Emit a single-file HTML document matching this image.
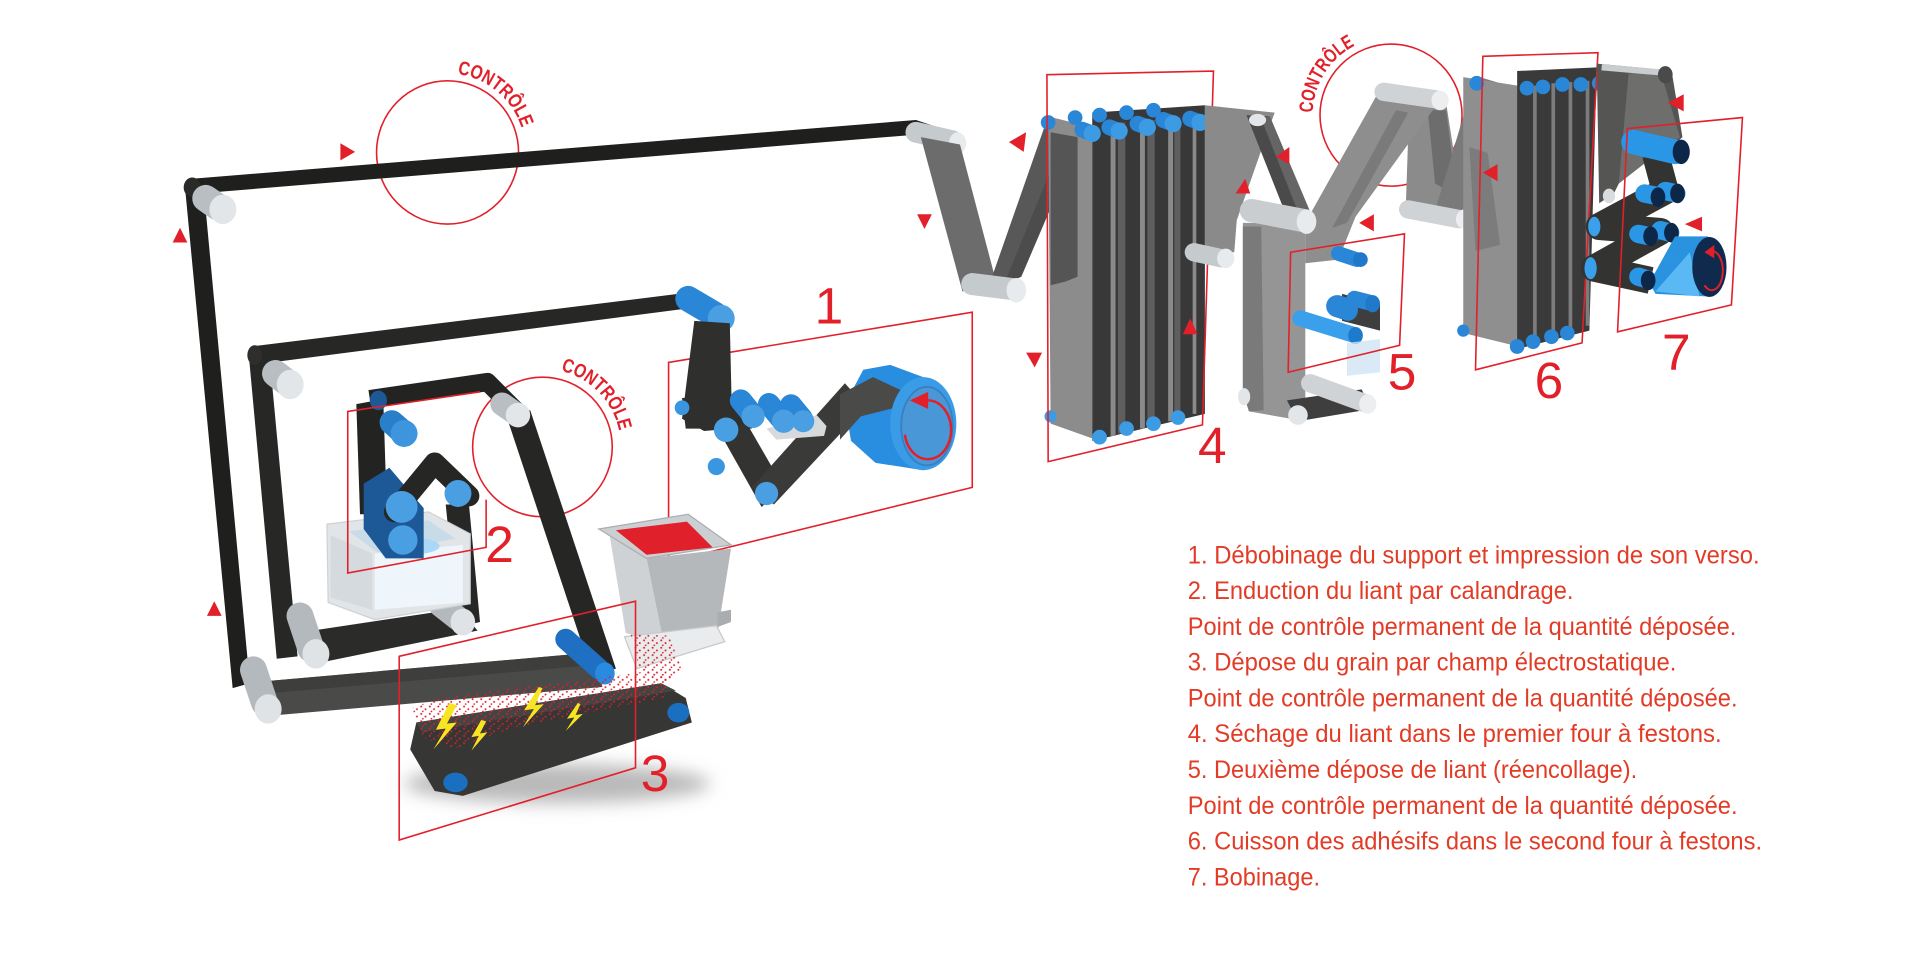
<!DOCTYPE html>
<html><head><meta charset="utf-8">
<style>
html,body{margin:0;padding:0;background:#fff;}
svg{display:block;}
.r{fill:none;stroke:#e2202a;stroke-width:1.3;}
.t{fill:#e2202a;}
.lst{font-family:"Liberation Sans",sans-serif;font-size:20.6px;fill:#e23b26;}
.num{font-family:"Liberation Sans",sans-serif;font-size:42px;fill:#e2202a;text-anchor:middle;}
.ctl{font-family:"Liberation Sans Narrow","Liberation Sans",sans-serif;font-size:16px;font-weight:bold;fill:#e2202a;}
</style></head><body>
<svg width="1920" height="960" viewBox="0 0 1568 784" xmlns="http://www.w3.org/2000/svg">
<defs>
 <pattern id="dots" width="7" height="6" patternUnits="userSpaceOnUse">
  <circle cx="1" cy="1" r="0.8" fill="#d8202c"/>
  <circle cx="4.5" cy="3.2" r="0.8" fill="#d8202c"/>
  <circle cx="2.3" cy="5" r="0.7" fill="#d8202c"/>
 </pattern>
 <filter id="blur" x="-30%" y="-100%" width="160%" height="300%"><feGaussianBlur stdDeviation="7"/></filter>
 <path id="c1p" d="M370.6,60.2 A64,64 0 0 1 428.8,118.4"/>
 <path id="c2p" d="M454.1,302 A64,64 0 0 1 507,365"/>
 <path id="c3p" d="M1072,96.2 A64,64 0 0 1 1114.1,33.9"/>
</defs>

<!-- CONTROL CIRCLES (behind belts) -->
<ellipse class="r" cx="365.5" cy="124.5" rx="58" ry="58.5"/>
<text class="ctl"><textPath href="#c1p" startOffset="3" textLength="72" lengthAdjust="spacingAndGlyphs">CONTRÔLE</textPath></text>
<circle class="r" cx="1136" cy="94" r="58"/>
<text class="ctl"><textPath href="#c3p" startOffset="4" textLength="68" lengthAdjust="spacingAndGlyphs">CONTRÔLE</textPath></text>

<!-- OUTER BELT -->
<polygon points="157,146 748,98 766,104 760,109 162,158" fill="#1f1f1d"/>
<polygon points="151,152 166,150 204,558 190,562" fill="#1f1f1d"/>
<ellipse cx="157" cy="153" rx="7" ry="8" fill="#2a2a28"/>
<line x1="168" y1="162" x2="178" y2="169" stroke="#b9bec2" stroke-width="22" stroke-linecap="round"/>
<ellipse cx="182" cy="171" rx="11" ry="12" fill="#e3e6e8"/>
<line x1="748" y1="108" x2="778" y2="115" stroke="#c5cacd" stroke-width="17" stroke-linecap="round"/>
<ellipse cx="782" cy="117" rx="7" ry="9" fill="#e8ebed"/>
<!-- bottom band -->
<polygon points="220,556 483,533 492,561 226,584" fill="#4a4a48"/>
<polygon points="220,556 483,533 486,543 222,566" fill="#3e3e3c"/>
<line x1="207" y1="547" x2="216" y2="574" stroke="#b4b9bd" stroke-width="22" stroke-linecap="round"/>
<ellipse cx="219" cy="579" rx="11" ry="12" fill="#dfe3e6"/>

<!-- INNER LOOP -->
<polygon points="205,283 570,238 584,249 214,297" fill="#272725"/>
<polygon points="203,288 220,290 243,536 226,538" fill="#272725"/>
<ellipse cx="208" cy="290" rx="6" ry="8" fill="#2e2e2c"/>
<line x1="225" y1="305" x2="234" y2="312" stroke="#b9bec2" stroke-width="22" stroke-linecap="round"/>
<ellipse cx="237" cy="314" rx="11" ry="12" fill="#e3e6e8"/>
<polygon points="255,515 375,497 390,515 262,541" fill="#2b2b29"/>
<polygon points="364,412 383,412 392,508 374,512" fill="#272725"/>
<line x1="245" y1="503" x2="254" y2="530" stroke="#b4b9bd" stroke-width="22" stroke-linecap="round"/>
<ellipse cx="258" cy="534" rx="11" ry="12" fill="#dfe3e6"/>
<line x1="360" y1="494" x2="374" y2="505" stroke="#b4b9bd" stroke-width="20" stroke-linecap="round"/>
<ellipse cx="378" cy="508" rx="10" ry="11" fill="#dfe3e6"/>

<!-- UNIT 2 : tray -->
<polygon points="267,428 350,418 384,436 384,493 306,506 268,492" fill="#e1e5e8" stroke="#cdd2d5" stroke-width="1"/>
<polygon points="270,437 304,452 304,498 270,488" fill="#d5dade"/>
<polygon points="306,452 378,445 378,492 306,498" fill="#eef6fb"/>
<polygon points="285,434 350,425 372,440 308,451" fill="#c7dce8"/>
<ellipse cx="335" cy="446" rx="24" ry="7" fill="#a9d9f6"/>

<!-- Circle 2 -->
<circle class="r" cx="443" cy="365" r="57"/>
<text class="ctl"><textPath href="#c2p" startOffset="4" textLength="72" lengthAdjust="spacingAndGlyphs">CONTRÔLE</textPath></text>

<!-- UNIT 2 : calender loop -->
<polygon points="291,330 313,326 316,420 294,420" fill="#232321"/>
<path d="M302,326 L398,312 L424,338" stroke="#232321" stroke-width="15" fill="none" stroke-linejoin="round"/>
<ellipse cx="309" cy="327" rx="7" ry="8" fill="#1d5996"/>
<polygon points="297,395 318,382 346,415 346,456 315,456 297,432" fill="#1d5996"/>
<path d="M322,418 L355,378 L383,405" stroke="#262624" stroke-width="17" fill="none" stroke-linejoin="round" stroke-linecap="round"/>
<line x1="320" y1="345" x2="328" y2="352" stroke="#2a7fcb" stroke-width="20" stroke-linecap="round"/>
<circle cx="330" cy="354" r="11" fill="#3d95dd"/>
<circle cx="328" cy="414" r="13" fill="#4a9fe2"/>
<circle cx="329" cy="441" r="12" fill="#4a9fe2"/>
<circle cx="374" cy="403" r="11" fill="#4a9fe2"/>
<!-- diagonal belt -->
<polygon points="413,338 433,335 503,546 484,552" fill="#262624"/>
<line x1="410" y1="330" x2="420" y2="337" stroke="#b9bec2" stroke-width="19" stroke-linecap="round"/>
<ellipse cx="423" cy="339" rx="10" ry="10" fill="#e3e6e8"/>
<!-- Frame 2 -->
<path class="r" d="M392,320 L284,336 L284,468 L397,447 L397,408"/>
<text class="num" x="408" y="459">2</text>

<!-- UNIT 1 -->
<path class="r" d="M794,398 L546,459 L546,296 L794,255 Z"/>
<line x1="562" y1="244" x2="584" y2="257" stroke="#2a86d6" stroke-width="21" stroke-linecap="round"/>
<ellipse cx="589" cy="260" rx="11" ry="11" fill="#4a9fe2"/>
<polygon points="567,262 596,264 598,350 575,352 557,342" fill="#2f2f2d"/>
<polygon points="557,325 612,322 614,350 560,350" fill="#2f2f2d"/>
<polygon points="586,350 610,346 640,398 622,414" fill="#333331"/>
<polygon points="614,398 632,412 707,332 690,313" fill="#3a3a38"/>
<line x1="605" y1="327" x2="614" y2="338" stroke="#2a86d6" stroke-width="18" stroke-linecap="round"/>
<line x1="628" y1="330" x2="638" y2="342" stroke="#2a86d6" stroke-width="18" stroke-linecap="round"/>
<line x1="646" y1="331" x2="655" y2="342" stroke="#2a86d6" stroke-width="18" stroke-linecap="round"/>
<polygon points="626,350 667,339 675,348 673,356 634,359" fill="#d6dadd"/>
<circle cx="557" cy="333" r="6" fill="#3a96e0"/>
<circle cx="585" cy="381" r="7" fill="#3a96e0"/>
<circle cx="593" cy="351" r="10" fill="#4a9fe2"/>
<circle cx="615" cy="340" r="9.5" fill="#4a9fe2"/>
<circle cx="640" cy="344" r="9.5" fill="#4a9fe2"/>
<circle cx="656" cy="344" r="9" fill="#4a9fe2"/>
<circle cx="626" cy="403" r="9.5" fill="#4a9fe2"/>
<!-- big roll -->
<polygon points="690,330 705,302 727,298 754,308 754,384 715,378 695,360" fill="#2a8ee0"/>
<polygon points="686,322 713,308 743,322 735,332 703,340 686,359" fill="#4a4a48"/>
<ellipse cx="754" cy="346" rx="27" ry="38" fill="#3a9be6"/>
<ellipse cx="757" cy="348" rx="21" ry="32" fill="#4a97d8" stroke="#3a7fc0" stroke-width="1.5"/>
<path d="M758,327 A19,24 0 1 1 739,355" fill="none" stroke="#e2202a" stroke-width="2"/>
<polygon points="743,327 758,320 758,334" fill="#e2202a"/>
<text class="num" x="677" y="264">1</text>

<!-- HOPPER -->
<polygon points="498,438 528,456 542,525 511,517" fill="#cfd2d4"/>
<polygon points="528,456 597,448 586,517 542,525" fill="#b4b8bb"/>
<polygon points="586,500 597,498 597,508 586,512" fill="#a9adb0"/>
<polygon points="489,432 562,420 597,445 528,456" fill="#cbcfd2" stroke="#a9aeb2" stroke-width="1"/>
<polygon points="503,433 561,426 582,447 528,453" fill="#e0202a"/>
<polygon points="510,520 585,511 592,524 520,546" fill="#e9ebec" stroke="#c6cacd" stroke-width="1"/>

<!-- shadow + CONVEYOR -->
<ellipse cx="455" cy="640" rx="125" ry="16" fill="#b9b9b9" filter="url(#blur)"/>
<polygon points="340,590 540,558 560,570 565,590 378,650 355,646 335,612" fill="#363634"/>
<polygon points="340,590 540,558 552,564 345,598" fill="#444442"/>
<ellipse cx="372" cy="639" rx="10" ry="8" fill="#1a6fc0"/>
<ellipse cx="554" cy="582" rx="9" ry="8" fill="#1a6fc0"/>
<!-- blue diagonal roller -->
<line x1="462" y1="522" x2="490" y2="547" stroke="#1f6fc2" stroke-width="17" stroke-linecap="round"/>
<ellipse cx="494" cy="550" rx="8" ry="9" fill="#2a8ae0"/>
<!-- red dots -->
<polygon points="336,578 360,570 420,562 480,555 530,548 548,552 542,570 480,582 420,594 370,612 345,602" fill="url(#dots)"/>
<polygon points="515,518 546,519 558,548 542,558 522,546" fill="url(#dots)"/>
<!-- lightning -->
<g fill="#f7e523">
 <polygon points="367,574 356,596 364,595 354,612 373,590 365,591 373,576"/>
 <polygon points="393,588 385,602 391,601 385,613 398,598 392,599 397,589"/>
 <polygon points="440,561 428,580 436,579 427,594 444,575 437,576 443,562"/>
 <polygon points="472,574 463,587 469,586 462,597 476,583 470,584 474,575"/>
</g>
<!-- Frame 3 -->
<path class="r" d="M326,536 L519,491 L519,627 L326,686 Z"/>
<text class="num" x="535" y="646">3</text>

<!-- RIGHT SECTION -->
<!-- web V -->
<polygon points="752,112 784,118 814,232 786,238" fill="#6c6c6c"/>
<polygon points="806,238 834,226 884,109 856,95" fill="#585858"/>
<polygon points="820,232 834,226 884,109 872,105" fill="#4c4c4c"/>
<line x1="794" y1="232" x2="826" y2="236" stroke="#c5cacd" stroke-width="18" stroke-linecap="round"/>
<ellipse cx="830" cy="237" rx="8" ry="10" fill="#e8ebed"/>

<!-- Oven 4 -->
<polygon points="856,95 892,104 892,358 858,346" fill="#8c8c8c"/>
<polygon points="858,108 880,112 880,226 870,230 858,233" fill="#555"/>
<polygon points="892,92 984,86 984,338 892,360" fill="#383838"/>
<g fill="#5e5e5e">
 <rect x="913" y="100" width="6" height="254"/>
 <rect x="937" y="98" width="6" height="250"/>
 <rect x="959" y="96" width="5" height="246"/>
</g>
<g fill="#8a8a8a">
 <rect x="907" y="102" width="4" height="254"/>
 <rect x="931" y="100" width="4" height="250"/>
 <rect x="954" y="98" width="4" height="246"/>
 <rect x="974" y="96" width="3" height="242"/>
</g>
<g fill="#2a86d6">
 <circle cx="856" cy="100" r="6"/><circle cx="878" cy="96" r="6"/><circle cx="898" cy="94" r="6"/><circle cx="920" cy="92" r="6"/><circle cx="942" cy="90" r="6"/>
</g>
<g stroke="#2a86d6" stroke-width="13" stroke-linecap="round">
 <line x1="884" y1="106" x2="892" y2="109"/><line x1="906" y1="104" x2="914" y2="107"/><line x1="929" y1="101" x2="937" y2="104"/><line x1="950" y1="98" x2="958" y2="101"/><line x1="972" y1="97" x2="980" y2="100"/>
</g>
<g fill="#3d9be4">
 <circle cx="892" cy="109" r="7"/><circle cx="914" cy="107" r="7"/><circle cx="937" cy="104" r="7"/><circle cx="958" cy="101" r="7"/><circle cx="980" cy="100" r="7"/>
 <circle cx="898" cy="357" r="6"/><circle cx="920" cy="350" r="6"/><circle cx="942" cy="346" r="6"/><circle cx="962" cy="341" r="6"/><circle cx="858" cy="340" r="5"/>
</g>
<path class="r" d="M855,61 L991,58 L982,347 L856,377 Z"/>
<text class="num" x="990" y="378">4</text>

<!-- between 4 and 5 -->
<polygon points="984,86 1041,92 1038,100 1010,180 1008,206 984,206" fill="#8a8a8a"/>
<polygon points="1018,94 1037,95 1075,185 1056,190" fill="#4a4a4a"/>
<polygon points="1030,97 1037,95 1075,185 1066,188" fill="#656565"/>
<line x1="975" y1="206" x2="998" y2="211" stroke="#c5cacd" stroke-width="15" stroke-linecap="round"/>
<ellipse cx="1001" cy="211" rx="7" ry="8" fill="#e8ebed"/>
<ellipse cx="1027" cy="98" rx="7" ry="5" fill="#e3e6e8"/>
<!-- Y shape -->
<polygon points="1151,82 1181,84 1195,174 1148,171" fill="#8b8b8b"/>
<polygon points="1166,90 1181,90 1190,160 1172,150" fill="#6d6d6d"/>
<polygon points="1172,172 1200,175 1232,70 1205,62" fill="#7a7a7a"/>
<polygon points="1015,182 1066,182 1066,330 1060,343 1020,336 1015,320" fill="#959595"/>
<polygon points="1015,185 1030,185 1032,335 1020,336 1015,320" fill="#7a7a7a"/>
<polygon points="1066,182 1127,73 1178,79 1107,177 1093,212 1066,215" fill="#8e8e8e"/>
<polygon points="1088,186 1140,90 1150,92 1100,182" fill="#7a7a7a"/>
<line x1="1130" y1="75" x2="1172" y2="81" stroke="#cfd3d6" stroke-width="15" stroke-linecap="round"/>
<ellipse cx="1176" cy="82" rx="7" ry="8" fill="#eceef0"/>
<line x1="1150" y1="171" x2="1192" y2="179" stroke="#cfd3d6" stroke-width="15" stroke-linecap="round"/>
<ellipse cx="1196" cy="179" rx="7" ry="8" fill="#eceef0"/>
<line x1="1022" y1="172" x2="1064" y2="180" stroke="#c9cdd0" stroke-width="19" stroke-linecap="round"/>
<ellipse cx="1067" cy="181" rx="8" ry="10" fill="#e8ebed"/>
<!-- bottom of Y -->
<polygon points="1051,327 1112,318 1120,334 1060,344" fill="#3e3e3e"/>
<line x1="1070" y1="313" x2="1114" y2="329" stroke="#cfd3d6" stroke-width="15" stroke-linecap="round"/>
<ellipse cx="1117" cy="330" rx="7" ry="8" fill="#eceef0"/>
<ellipse cx="1060" cy="339" rx="8" ry="8" fill="#e3e6e8"/>
<ellipse cx="1016" cy="324" rx="5" ry="7" fill="#e3e6e8"/>
<!-- section 5 rollers -->
<polygon points="1096,240 1127,248 1127,270 1096,262" fill="#3e3e3e"/>
<line x1="1093" y1="207" x2="1108" y2="212" stroke="#2a86d6" stroke-width="12" stroke-linecap="round"/>
<ellipse cx="1111" cy="212" rx="6" ry="6" fill="#1f78c8"/>
<line x1="1106" y1="244" x2="1118" y2="247" stroke="#2a86d6" stroke-width="13" stroke-linecap="round"/>
<ellipse cx="1121" cy="248" rx="6" ry="7" fill="#1f78c8"/>
<line x1="1092" y1="250" x2="1098" y2="252" stroke="#2a86d6" stroke-width="18" stroke-linecap="round"/>
<ellipse cx="1101" cy="253" rx="8" ry="9" fill="#2a86d6"/>
<line x1="1062" y1="260" x2="1104" y2="273" stroke="#3aa0ec" stroke-width="13" stroke-linecap="round"/>
<ellipse cx="1107" cy="274" rx="6" ry="7" fill="#1d7acc"/>
<polygon points="1100,280 1127,277 1127,304 1100,307" fill="#cfe4f2" opacity="0.8"/>
<path class="r" d="M1054,206 L1147,191 L1143,282 L1052,304 Z"/>
<text class="num" x="1145" y="318">5</text>

<!-- Oven 6 -->
<polygon points="1195,63 1240,70 1240,283 1195,272" fill="#8f8f8f"/>
<polygon points="1200,120 1215,125 1225,200 1205,205" fill="#7c7c7c"/>
<polygon points="1239,58 1304,55 1298,270 1239,285" fill="#3a3a3a"/>
<g fill="#7c7c7c">
 <rect x="1252" y="70" width="3" height="208"/>
 <rect x="1267" y="68" width="3" height="206"/>
 <rect x="1281" y="67" width="3" height="203"/>
 <rect x="1295" y="66" width="3" height="200"/>
</g>
<g fill="#2a86d6">
 <circle cx="1206" cy="68" r="6"/><circle cx="1247" cy="72" r="6"/><circle cx="1260" cy="71" r="6"/><circle cx="1276" cy="69" r="6"/><circle cx="1291" cy="69" r="6"/><circle cx="1306" cy="68" r="6"/>
 <circle cx="1195" cy="270" r="5"/><circle cx="1239" cy="283" r="6"/><circle cx="1252" cy="279" r="6"/><circle cx="1267" cy="275" r="6"/><circle cx="1280" cy="272" r="6"/>
</g>
<path class="r" d="M1211,46 L1305,43 L1292,280 L1205,302 Z"/>
<text class="num" x="1265" y="325">6</text>

<!-- Section 7 -->
<polygon points="1304,52 1358,57 1366,63 1374,112 1353,131 1329,136 1318,158 1306,166" fill="#555553"/>
<polygon points="1330,60 1356,58 1372,112 1350,128 1322,150" fill="#6e6e6c"/>
<line x1="1308" y1="55" x2="1355" y2="59" stroke="#c9cdd0" stroke-width="5"/>
<ellipse cx="1360" cy="61" rx="6" ry="7" fill="#4a4a4a"/>
<ellipse cx="1314" cy="160" rx="5" ry="6" fill="#d8dcdf"/>
<polyline points="1352,126 1360,156 1306,185 1356,189 1302,219 1348,229" stroke="#333331" stroke-width="22" fill="none" stroke-linejoin="round"/>
<line x1="1334" y1="116" x2="1368" y2="124" stroke="#2a96e6" stroke-width="20" stroke-linecap="round"/>
<ellipse cx="1373" cy="124" rx="7" ry="10" fill="#0d2748"/>
<line x1="1343" y1="158" x2="1353" y2="160" stroke="#2a96e6" stroke-width="15" stroke-linecap="round"/>
<line x1="1360" y1="156" x2="1369" y2="158" stroke="#2a96e6" stroke-width="15" stroke-linecap="round"/>
<ellipse cx="1354" cy="161" rx="6" ry="8" fill="#0d2748"/>
<ellipse cx="1370" cy="158" rx="6" ry="8" fill="#0d2748"/>
<line x1="1338" y1="191" x2="1347" y2="193" stroke="#2a96e6" stroke-width="15" stroke-linecap="round"/>
<line x1="1356" y1="188" x2="1364" y2="190" stroke="#2a96e6" stroke-width="15" stroke-linecap="round"/>
<ellipse cx="1348" cy="193" rx="6" ry="8" fill="#0d2748"/>
<ellipse cx="1365" cy="190" rx="6" ry="8" fill="#0d2748"/>
<ellipse cx="1302" cy="185" rx="5" ry="8" fill="#3aa0ec"/>
<ellipse cx="1299" cy="219" rx="5" ry="9" fill="#3aa0ec"/>
<!-- big roll 7 -->
<polygon points="1347,231 1368,193 1395,193 1393,242 1352,240" fill="#2a93e0"/>
<polygon points="1352,238 1380,206 1388,242" fill="#5ab8f5"/>
<line x1="1338" y1="226" x2="1345" y2="228" stroke="#2a96e6" stroke-width="15" stroke-linecap="round"/>
<ellipse cx="1346" cy="229" rx="6" ry="8" fill="#0d2748"/>
<ellipse cx="1396" cy="218" rx="14" ry="24.5" fill="#0f2a4d"/>
<path d="M1398,205 A9,16 0 1 1 1392,233" fill="none" stroke="#e2202a" stroke-width="1.6"/>
<polygon points="1392,206 1400,200 1400,211" fill="#e2202a"/>
<path class="r" d="M1329,105 L1423,96 L1414,249 L1321,271 Z"/>
<text class="num" x="1369" y="302">7</text>

<!-- RED ARROWHEADS -->
<g class="t">
 <polygon points="278,117 278,131 290,124"/>
 <polygon points="141,198 153,198 147,186"/>
 <polygon points="169,503 181,503 175,491"/>
 <polygon points="749,175 761,175 755,187"/>
 <polygon points="824,116 838,108 836,124"/>
 <polygon points="838,288 851,288 845,300"/>
 <polygon points="966,273 978,273 972,260"/>
 <polygon points="1009,158 1021,158 1017,146"/>
 <polygon points="1042,128 1053,120 1053,134"/>
 <polygon points="1110,182 1122,175 1122,189"/>
 <polygon points="1211,141 1223,134 1223,148"/>
 <polygon points="1362,84 1375,77 1375,91"/>
 <polygon points="1376,183 1390,177 1390,189"/>
</g>

<!-- LEGEND -->
<text class="lst" x="970" y="460" textLength="467" lengthAdjust="spacingAndGlyphs">1. Débobinage du support et impression de son verso.</text>
<text class="lst" x="970" y="489.2" textLength="315" lengthAdjust="spacingAndGlyphs">2. Enduction du liant par calandrage.</text>
<text class="lst" x="970" y="518.4" textLength="448" lengthAdjust="spacingAndGlyphs">Point de contrôle permanent de la quantité déposée.</text>
<text class="lst" x="970" y="547.7" textLength="399" lengthAdjust="spacingAndGlyphs">3. Dépose du grain par champ électrostatique.</text>
<text class="lst" x="970" y="576.9" textLength="449" lengthAdjust="spacingAndGlyphs">Point de contrôle permanent de la quantité déposée.</text>
<text class="lst" x="970" y="606.1" textLength="436" lengthAdjust="spacingAndGlyphs">4. Séchage du liant dans le premier four à festons.</text>
<text class="lst" x="970" y="635.3" textLength="367" lengthAdjust="spacingAndGlyphs">5. Deuxième dépose de liant (réencollage).</text>
<text class="lst" x="970" y="664.6" textLength="449" lengthAdjust="spacingAndGlyphs">Point de contrôle permanent de la quantité déposée.</text>
<text class="lst" x="970" y="693.8" textLength="469" lengthAdjust="spacingAndGlyphs">6. Cuisson des adhésifs dans le second four à festons.</text>
<text class="lst" x="970" y="723" textLength="108" lengthAdjust="spacingAndGlyphs">7. Bobinage.</text>
</svg>
</body></html>
